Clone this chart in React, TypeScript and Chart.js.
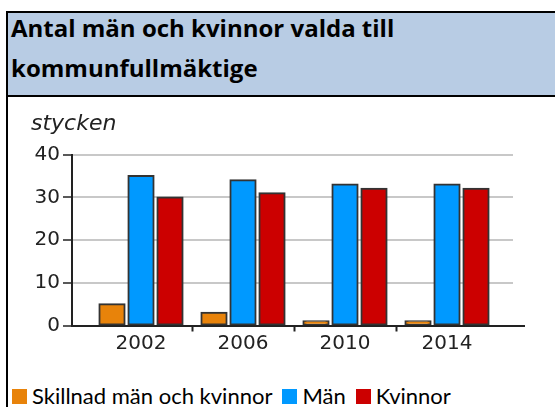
import React, { useEffect, useRef } from 'react';
import { Chart, registerables } from 'chart.js';

Chart.register(...registerables);

const years = [2002, 2006, 2010, 2014];
const diffValues = [5, 3, 1, 1];
const menValues = [35, 34, 33, 33];
const womenValues = [30, 31, 32, 32];
const seriesNames = ['Skillnad män och kvinnor', 'Män', 'Kvinnor'];
const seriesColors = ['#E8830A', '#0099FF', '#CC0000'];
const titleLines = ['Antal män och kvinnor valda till', 'kommunfullmäktige'];
const unitLabel = 'stycken';
const yMin = 0;
const yMax = 40;
const yStep = 10;

const axisFont = { family: '"DejaVu Sans", Verdana, sans-serif', size: 20 };

const axisExtend = {
  id: 'axisExtend',
  afterDraw(chart: any) {
    const { ctx, chartArea, scales } = chart;
    const y = Math.round(scales.y.getPixelForValue(0));
    ctx.save();
    ctx.strokeStyle = '#222';
    ctx.lineWidth = 2;
    ctx.beginPath();
    ctx.moveTo(chartArea.right - 1, y);
    ctx.lineTo(chartArea.right + 12, y);
    ctx.stroke();
    ctx.restore();
  },
};

function BarChart() {
  const ref = useRef<HTMLCanvasElement | null>(null);
  useEffect(() => {
    if (!ref.current) return;
    const series = [diffValues, menValues, womenValues];
    const chart = new Chart(ref.current, {
      type: 'bar',
      data: {
        datasets: series.map((vals, si) => ({
          label: seriesNames[si],
          data: years.map((yr, i) => ({ x: yr, y: vals[i] })),
          backgroundColor: seriesColors[si],
          borderColor: '#333',
          borderWidth: 2,
          borderSkipped: false,
          inflateAmount: 1,
          categoryPercentage: 0.853,
          barPercentage: 0.87,
        })),
      },
      options: {
        animation: false,
        responsive: true,
        maintainAspectRatio: false,
        layout: { padding: { left: 23, right: 42, top: 0, bottom: 6.5 } },
        plugins: {
          legend: { display: false },
          tooltip: { enabled: false },
          title: {
            display: true,
            text: unitLabel,
            align: 'start',
            color: '#222',
            font: { family: '"DejaVu Sans", Verdana, sans-serif', size: 22, style: 'italic', weight: 'normal' },
            padding: { top: 11.5, bottom: 16.8 },
          },
        },
        scales: {
          x: {
            type: 'linear',
            min: 1999.294,
            max: 2016.588,
            offset: false,
            afterBuildTicks: (s: any) => {
              s.ticks = years.map((v) => ({ value: v }));
            },
            afterFit: (s: any) => {
              s.height = 30;
            },
            ticks: {
              callback: (v: any) => String(v),
              font: axisFont,
              color: '#222',
              padding: 0,
              maxRotation: 0,
              autoSkip: false,
            },
            grid: {
              offset: true,
              drawOnChartArea: false,
              drawTicks: true,
              tickLength: 6,
              tickWidth: 2,
              tickColor: (ctx: any) =>
                ctx.index === undefined || ctx.index === 0 ? 'rgba(0,0,0,0)' : '#222',
            },
            border: { display: true, color: '#222', width: 2 },
          },
          y: {
            min: yMin,
            max: yMax,
            afterFit: (s: any) => {
              s.width = 41;
            },
            ticks: {
              stepSize: yStep,
              font: axisFont,
              color: '#222',
              padding: 3,
            },
            grid: {
              color: '#c8c8c8',
              lineWidth: 2,
              tickColor: '#222',
              tickLength: 9,
              tickWidth: 1.5,
            },
            border: { display: true, color: '#222', width: 2 },
          },
        },
      },
      plugins: [axisExtend],
    } as any);
    return () => chart.destroy();
  }, []);
  return <canvas ref={ref} />;
}

export default function App() {
  return (
    <div style={{ position: 'absolute', left: 0, top: 0, width: 555, height: 407, overflow: 'hidden', background: '#fff' }}>
      <div
        style={{
          position: 'absolute',
          left: 6,
          top: 11,
          width: 560,
          height: 86,
          boxSizing: 'border-box',
          background: '#B8CCE4',
          borderTop: '2px solid #000',
          borderLeft: '2px solid #000',
          borderBottom: '2px solid #000',
        }}
      />
      <div
        style={{
          position: 'absolute',
          left: 11,
          top: 8.2,
          fontFamily: '"Open Sans", "Noto Sans", sans-serif',
          fontWeight: 700,
          fontSize: 24,
          lineHeight: '40px',
          color: '#000',
          whiteSpace: 'nowrap',
        }}
      >
        {titleLines.map((t) => (
          <div key={t}>{t}</div>
        ))}
      </div>
      <div style={{ position: 'absolute', left: 6, top: 97, width: 2, height: 310, background: '#000' }} />
      <div style={{ position: 'absolute', left: 8, top: 100, width: 547, height: 262 }}>
        <BarChart />
      </div>
      <div
        style={{
          position: 'absolute',
          left: 12,
          top: 384,
          height: 24,
          display: 'flex',
          alignItems: 'center',
          fontFamily: 'Lato, "Noto Sans", sans-serif',
          fontSize: 22,
          lineHeight: '24px',
          color: '#000',
          whiteSpace: 'nowrap',
        }}
      >
        {seriesNames.map((n, i) => (
          <div key={n} style={{ display: 'flex', alignItems: 'center', marginRight: 10 }}>
            <span style={{ display: 'inline-block', width: 15, height: 15, background: seriesColors[i], marginRight: 5 }} />
            <span>{n}</span>
          </div>
        ))}
      </div>
    </div>
  );
}
